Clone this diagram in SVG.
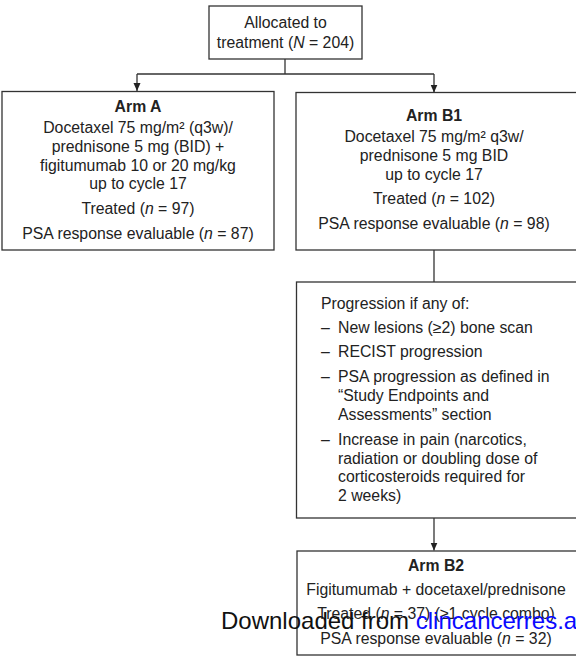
<svg xmlns="http://www.w3.org/2000/svg" width="576" height="657" viewBox="0 0 576 657">
<defs>
<style>
.box{fill:#fff;stroke:#333;stroke-width:1.3}
.ln{fill:none;stroke:#333;stroke-width:1.3}
text{font-family:"Liberation Sans",Arial,sans-serif;font-size:15.8px;fill:#222}
.c{text-anchor:middle}
.b{font-weight:bold}
.i{font-style:italic}
.wm{font-size:24px;fill:#111}
.wb{fill:#0a0aff}
</style>
<marker id="ah" viewBox="0 0 8 8" refX="8" refY="4" markerWidth="8" markerHeight="8" markerUnits="userSpaceOnUse" orient="auto">
<path d="M0,0.5 L8,4 L0,7.5 Z" fill="#222"/>
</marker>
</defs>
<rect width="576" height="657" fill="#fff"/>
<g id="connectors">
<path class="ln" d="M285,59 V74"/>
<path class="ln" d="M137,74 H434"/>
<path class="ln" d="M137,74 V91" marker-end="url(#ah)"/>
<path class="ln" d="M434,74 V92.5" marker-end="url(#ah)"/>
<path class="ln" d="M434,250 V282"/>
<path class="ln" d="M434,518 V550.5" marker-end="url(#ah)"/>
</g>
<g id="allocated">
<rect class="box" x="209" y="6" width="153" height="53"/>
<text class="c" x="285.5" y="27.5">Allocated to</text>
<text class="c" x="285.5" y="47.5">treatment (<tspan class="i">N</tspan> = 204)</text>
</g>
<g id="armA">
<rect class="box" x="2" y="91.5" width="272" height="158.5"/>
<text class="c b" x="138" y="112">Arm A</text>
<text class="c" x="138" y="132.5">Docetaxel 75 mg/m² (q3w)/</text>
<text class="c" x="138" y="151.5">prednisone 5 mg (BID) +</text>
<text class="c" x="138" y="170.5">figitumumab 10 or 20 mg/kg</text>
<text class="c" x="138" y="189">up to cycle 17</text>
<text class="c" x="138" y="214">Treated (<tspan class="i">n</tspan> = 97)</text>
<text class="c" x="138" y="239">PSA response evaluable (<tspan class="i">n</tspan> = 87)</text>
</g>
<g id="armB1">
<rect class="box" x="296" y="92.5" width="300" height="157.5"/>
<text class="c b" x="434" y="121">Arm B1</text>
<text class="c" x="434" y="141.5">Docetaxel 75 mg/m² q3w/</text>
<text class="c" x="434" y="161">prednisone 5 mg BID</text>
<text class="c" x="434" y="180">up to cycle 17</text>
<text class="c" x="434" y="204">Treated (<tspan class="i">n</tspan> = 102)</text>
<text class="c" x="434" y="228.5">PSA response evaluable (<tspan class="i">n</tspan> = 98)</text>
</g>
<g id="progression">
<rect class="box" x="296.5" y="282" width="300" height="236"/>
<text x="321" y="308.5">Progression if any of:</text>
<text x="321" y="332.5">–</text><text x="338" y="332.5">New lesions (≥2) bone scan</text>
<text x="321" y="357">–</text><text x="338" y="357">RECIST progression</text>
<text x="321" y="381.5">–</text><text x="338" y="381.5">PSA progression as defined in</text>
<text x="338" y="400.5">“Study Endpoints and</text>
<text x="338" y="419.5">Assessments” section</text>
<text x="321" y="444.5">–</text><text x="338" y="444.5">Increase in pain (narcotics,</text>
<text x="338" y="463.5">radiation or doubling dose of</text>
<text x="338" y="482">corticosteroids required for</text>
<text x="338" y="501">2 weeks)</text>
</g>
<g id="armB2">
<rect class="box" x="297" y="551" width="300" height="104"/>
<text class="c b" x="436" y="571">Arm B2</text>
<text class="c" x="436" y="595">Figitumumab + docetaxel/prednisone</text>
<text class="c" x="436" y="619">Treated (<tspan class="i">n</tspan> = 37) (≥1 cycle combo)</text>
<text class="c" x="436" y="644">PSA response evaluable (<tspan class="i">n</tspan> = 32)</text>
</g>
<g id="watermark">
<text class="wm" x="221" y="628.5">Downloaded from <tspan class="wb">clincancerres.a</tspan></text>
</g>
</svg>
